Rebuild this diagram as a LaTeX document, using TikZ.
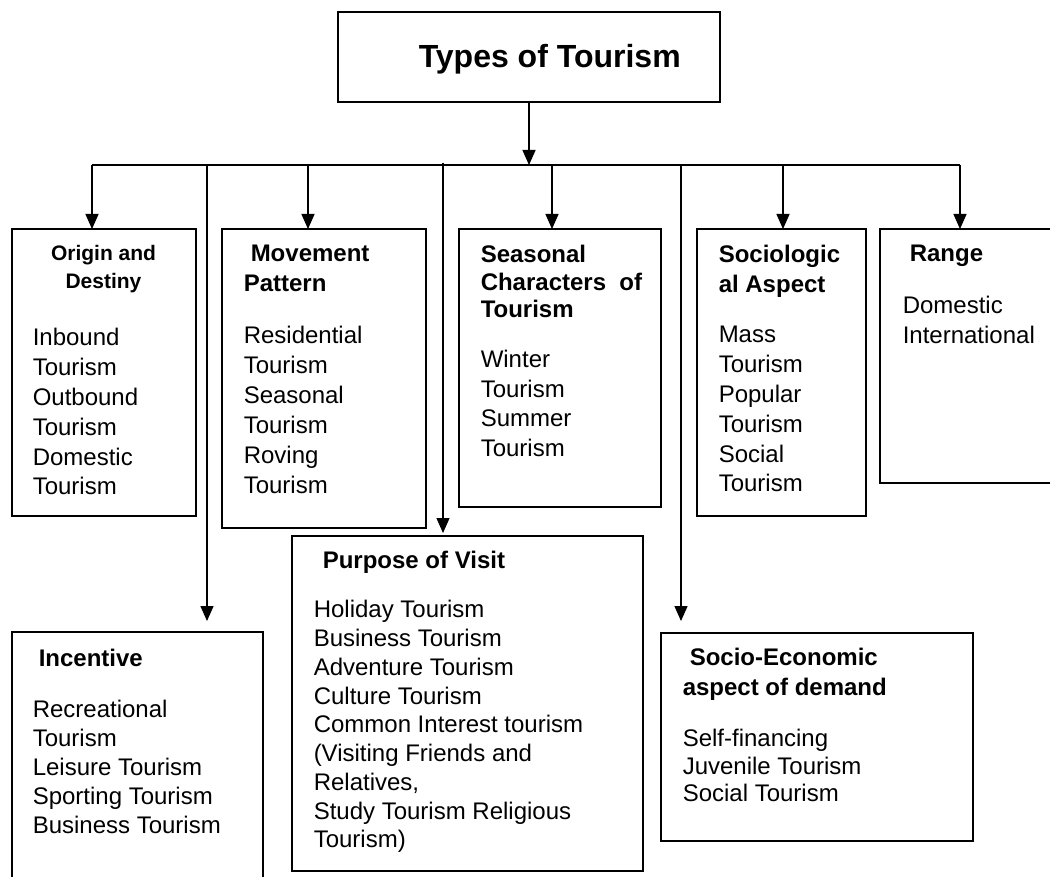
\documentclass[tikz,border=0pt]{standalone}
\usepackage{fontspec}
\setmainfont{Liberation Sans}
\usetikzlibrary{shapes, arrows.meta, positioning}
\tikzstyle{box} = [draw, rectangle, anchor=north west, inner sep=0pt, outer sep=0pt]
\tikzstyle{txt} = [anchor=north west, inner sep=0pt, align=left]
\newcommand{\fnt}[2]{\fontsize{#1}{#2}\selectfont}
\newcommand{\hd}[1]{\fontsize{24}{#1}\selectfont\bfseries}

\begin{document}
\begin{tikzpicture}[x=1pt, y=-1pt, line width=1.5pt, >={Triangle[width=13pt,length=15pt]}]
    \useasboundingbox (0,0) rectangle (1050,877);
    \node [box, minimum width=382pt, minimum height=90pt] (title) at (338,12) {};
    \node [txt, anchor=base west, font=\fnt{32}{38}\bfseries] (title-txt) at ([shift={(80,56)}]title.north west) {Types of Tourism};
    \node [box, minimum width=184pt, minimum height=287pt] (origin) at (12,229) {};
    \node [box, minimum width=204pt, minimum height=299pt] (movement) at (222,229) {};
    \node [box, minimum width=202pt, minimum height=278pt] (seasonal) at (459,229) {};
    \node [box, minimum width=169pt, minimum height=287pt] (sociology) at (697,229) {};
    \node [box, minimum width=200pt, minimum height=254pt] (range) at (880,229) {};
    \node [box, minimum width=351pt, minimum height=335pt] (purpose) at (292,536) {};
    \node [box, minimum width=251pt, minimum height=280pt] (incentive) at (12,632) {};
    \node [box, minimum width=312pt, minimum height=208pt] (economy) at (661,633) {};

    \node [txt, anchor=north, align=center, font=\fnt{21}{28}\bfseries] (origin-hd) at ([shift={(91.5,15.8)}]origin.north west) {Origin and\\Destiny};
    \node [txt, font=\fnt{24}{29.8}] (origin-txt) at ([shift={(20,98.7)}]origin.north west) {Inbound\\Tourism\\Outbound\\Tourism\\Domestic\\Tourism};
    \node [txt, font=\hd{30}] (movement-hd) at ([shift={(21,15.7)}]movement.north west) {\hspace*{7pt}Movement\\Pattern};
    \node [txt, font=\fnt{24}{30}] (movement-txt) at ([shift={(21,96.7)}]movement.north west) {Residential\\Tourism\\Seasonal\\Tourism\\Roving\\Tourism};
    \node [txt, font=\hd{27.5}] (seasonal-hd) at ([shift={(21,15.7)}]seasonal.north west) {Seasonal\\Characters\ \ of\\Tourism};
    \node [txt, font=\fnt{24}{29.5}] (seasonal-txt) at ([shift={(21,120.7)}]seasonal.north west) {Winter\\Tourism\\Summer\\Tourism};
    \node [txt, font=\hd{30}] (sociology-hd) at ([shift={(21,15.7)}]sociology.north west) {Sociologic\\al Aspect};
    \node [txt, font=\fnt{24}{29.8}] (sociology-txt) at ([shift={(21,96.7)}]sociology.north west) {Mass\\Tourism\\Popular\\Tourism\\Social\\Tourism};
    \node [txt, font=\hd{30}] (range-hd) at ([shift={(29,15.7)}]range.north west) {Range};
    \node [txt, font=\fnt{24}{30}] (range-txt) at ([shift={(22,66.7)}]range.north west) {Domestic\\International};
    \node [txt, font=\hd{30}] (purpose-hd) at ([shift={(30,14.7)}]purpose.north west) {Purpose of Visit};
    \node [txt, font=\fnt{24}{28.75}] (purpose-txt) at ([shift={(21,63.7)}]purpose.north west) {Holiday Tourism\\Business Tourism\\Adventure Tourism\\Culture Tourism\\Common Interest tourism\\(Visiting Friends and\\Relatives,\\Study Tourism Religious\\Tourism)};
    \node [txt, font=\hd{30}] (incentive-hd) at ([shift={(26,16.7)}]incentive.north west) {Incentive};
    \node [txt, font=\fnt{24}{29}] (incentive-txt) at ([shift={(20,67.7)}]incentive.north west) {Recreational\\Tourism\\Leisure Tourism\\Sporting Tourism\\Business Tourism};
    \node [txt, font=\hd{30}] (economy-hd) at ([shift={(21,14.7)}]economy.north west) {\hspace*{7pt}Socio-Economic\\aspect of demand};
    \node [txt, font=\fnt{24}{27.5}] (economy-txt) at ([shift={(21,95.7)}]economy.north west) {Self-financing\\Juvenile Tourism\\Social Tourism};

    \coordinate (hub) at (529,165);
    \coordinate (bus-w) at (92,165);
    \coordinate (bus-inc) at (207,165);
    \coordinate (bus-mov) at (308,165);
    \coordinate (bus-pur) at (443,163);
    \coordinate (bus-sea) at (552,165);
    \coordinate (bus-eco) at (681,165);
    \coordinate (bus-soc) at (783,165);
    \coordinate (bus-e) at (960,165);
    \draw [->] (title) -- (hub);
    \draw (bus-w) -- (bus-e);
    \draw [->] (bus-w) -- (bus-w |- origin.north);
    \draw [->, shorten >=11pt] (bus-inc) -- (bus-inc |- incentive.north);
    \draw [->] (bus-mov) -- (bus-mov |- movement.north);
    \draw [->, line width=1.1pt, shorten >=3pt] (bus-pur) -- (bus-pur |- purpose.north);
    \draw [->] (bus-sea) -- (bus-sea |- seasonal.north);
    \draw [->, shorten >=12pt] (bus-eco) -- (bus-eco |- economy.north);
    \draw [->] (bus-soc) -- (bus-soc |- sociology.north);
    \draw [->] (bus-e) -- (bus-e |- range.north);
\end{tikzpicture}
\end{document}
